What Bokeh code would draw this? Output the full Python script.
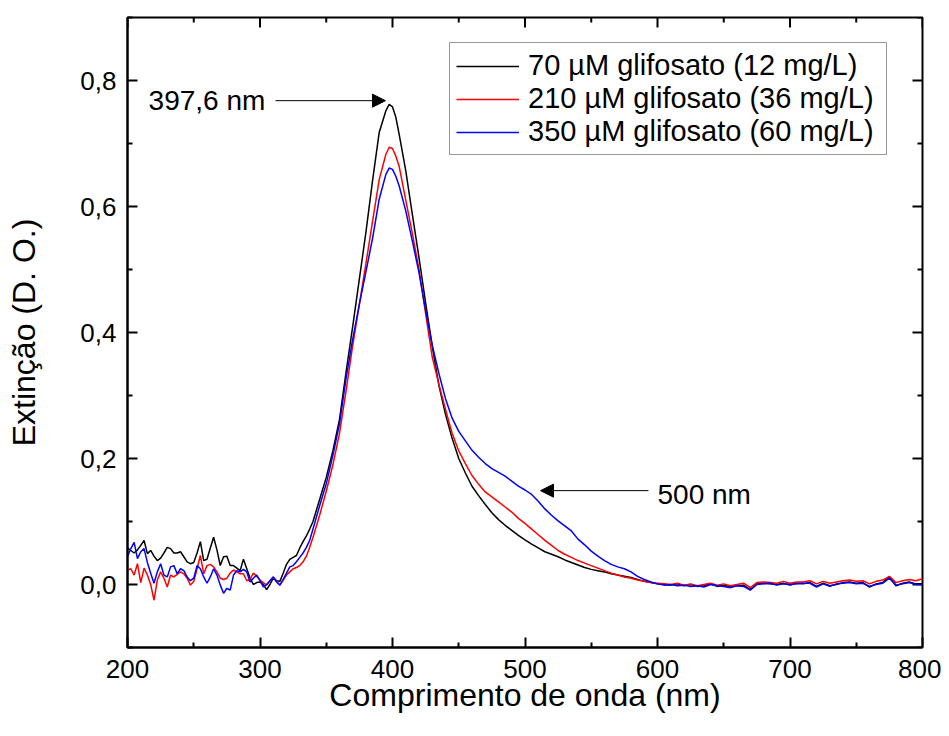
from bokeh.plotting import figure
from bokeh.models import (ColumnDataSource, LinearAxis, FixedTicker, CustomJSTickFormatter,
                          Legend, LegendItem, Arrow, NormalHead, Label, Range1d)
from bokeh.embed import file_html
from bokeh.resources import INLINE

# ---------------- data ----------------
wavelength = [
    200, 202.5, 205, 207.5, 210, 212.5, 215, 217.5, 220, 222.5, 225, 227.5, 230, 232.5, 235, 237.5,
    240, 242.5, 245, 247.5, 250, 252.5, 255, 257.5, 260, 262.5, 265, 267.5, 270, 272.5, 275, 277.5,
    280, 282.5, 285, 287.5, 290, 292.5, 295, 297.5, 300, 302.5, 305, 307.5, 310, 312.5, 315, 317.5,
    320, 322.5, 325, 327.5, 330, 332.5, 335, 337.5, 340,
    345, 350, 355, 360, 365, 370, 375, 380, 385, 390, 395, 397.5, 400, 402.5,
    405, 410, 415, 420, 425, 430, 435, 440, 445, 450, 455, 460, 465, 470, 475, 480, 485, 490, 495, 500,
    505, 510, 515, 520, 525, 530, 535, 540, 545, 550, 555, 560, 565, 570, 575, 580, 585, 590, 595, 600,
    605, 610, 615, 620, 625, 630, 635, 640, 645, 650, 655, 660, 665, 670, 675, 680, 685, 690, 695, 700,
    705, 710, 715, 720, 725, 730, 735, 740, 745, 750, 755, 760, 765, 770, 775, 780, 785, 790, 795, 800,
]

ext_70uM = [
    0.058, 0.054, 0.050, 0.055, 0.062, 0.070, 0.049, 0.054, 0.045, 0.038, 0.042, 0.050, 0.059, 0.057, 0.050, 0.050,
    0.052, 0.044, 0.036, 0.033, 0.035, 0.050, 0.068, 0.038, 0.040, 0.058, 0.075, 0.055, 0.030, 0.044, 0.045, 0.030,
    0.030, 0.026, 0.022, 0.040, 0.025, 0.010, 0.000, 0.003, 0.004, 0.000, -0.008, 0.000, 0.010, 0.006, 0.005, 0.018,
    0.032, 0.040, 0.043, 0.046, 0.058, 0.068, 0.077, 0.088, 0.100,
    0.135, 0.170, 0.212, 0.262, 0.338, 0.410, 0.485, 0.560, 0.642, 0.718, 0.752, 0.762, 0.758, 0.742,
    0.715, 0.657, 0.587, 0.519, 0.447, 0.378, 0.316, 0.270, 0.232, 0.200, 0.177, 0.156, 0.141, 0.127, 0.114, 0.103, 0.094, 0.086, 0.078, 0.071,
    0.064, 0.058, 0.052, 0.048, 0.044, 0.039, 0.035, 0.031, 0.027, 0.024, 0.022, 0.020, 0.017, 0.015, 0.013, 0.011, 0.008, 0.005, 0.003, 0.001,
    0.000, -0.001, 0.001, -0.002, 0.000, -0.003, -0.002, 0.001, -0.003, -0.001, -0.004, -0.002, -0.001, -0.008, 0.001, 0.002, 0.001, 0.000, 0.002, -0.001,
    0.002, 0.001, 0.003, -0.003, 0.002, -0.002, 0.000, 0.003, 0.004, 0.002, 0.003, -0.004, 0.001, 0.003, 0.012, -0.002, 0.002, 0.004, 0.001, 0.001,
]

ext_210uM = [
    0.023, 0.025, 0.015, 0.033, 0.003, 0.026, 0.015, 0.000, -0.025, 0.007, 0.020, 0.010, -0.004, 0.015, 0.012, 0.016,
    0.020, 0.017, 0.010, -0.001, 0.005, 0.025, 0.046, 0.017, 0.030, 0.032, 0.028, 0.020, 0.010, 0.008, 0.010, 0.018,
    0.023, 0.020, 0.017, 0.017, 0.006, 0.008, 0.018, 0.013, 0.007, 0.003, -0.001, 0.006, 0.012, 0.005, -0.001, 0.007,
    0.015, 0.020, 0.025, 0.027, 0.030, 0.036, 0.045, 0.059, 0.075,
    0.110, 0.148, 0.190, 0.240, 0.308, 0.380, 0.445, 0.510, 0.577, 0.643, 0.683, 0.694, 0.692, 0.680,
    0.664, 0.610, 0.557, 0.500, 0.430, 0.361, 0.318, 0.278, 0.240, 0.212, 0.192, 0.173, 0.159, 0.147, 0.139, 0.131, 0.123, 0.115, 0.105, 0.097,
    0.088, 0.079, 0.070, 0.062, 0.054, 0.048, 0.043, 0.038, 0.034, 0.030, 0.026, 0.022, 0.018, 0.015, 0.012, 0.010, 0.007, 0.005, 0.003, 0.002,
    0.001, 0.000, 0.002, -0.001, 0.001, -0.002, 0.000, 0.002, -0.001, 0.001, -0.002, 0.000, 0.002, -0.005, 0.003, 0.004, 0.003, 0.002, 0.005, 0.002,
    0.004, 0.004, 0.006, 0.001, 0.005, 0.002, 0.004, 0.006, 0.007, 0.005, 0.006, 0.001, 0.005, 0.007, 0.013, 0.003, 0.006, 0.008, 0.006, 0.009,
]

ext_350uM = [
    0.044, 0.057, 0.067, 0.041, 0.052, 0.057, 0.035, 0.018, 0.002, 0.020, 0.033, 0.015, 0.012, 0.028, 0.030, 0.017,
    0.025, 0.022, 0.012, 0.006, 0.010, 0.030, 0.025, 0.012, 0.002, 0.012, 0.025, 0.015, -0.001, -0.014, -0.006, -0.009,
    0.015, 0.022, 0.020, 0.024, 0.020, 0.004, 0.010, 0.015, 0.006, -0.004, 0.000, 0.006, 0.012, 0.004, -0.001, 0.008,
    0.018, 0.028, 0.030, 0.036, 0.043, 0.050, 0.059, 0.070, 0.088,
    0.125, 0.160, 0.205, 0.255, 0.328, 0.390, 0.445, 0.497, 0.550, 0.612, 0.651, 0.661, 0.659, 0.648,
    0.633, 0.593, 0.545, 0.495, 0.435, 0.380, 0.335, 0.295, 0.264, 0.243, 0.228, 0.213, 0.202, 0.192, 0.184, 0.178, 0.172, 0.164, 0.156, 0.150,
    0.143, 0.132, 0.120, 0.110, 0.101, 0.093, 0.085, 0.072, 0.063, 0.053, 0.045, 0.038, 0.032, 0.028, 0.025, 0.020, 0.013, 0.008, 0.004, 0.001,
    -0.001, 0.000, -0.002, -0.001, -0.003, -0.002, -0.004, 0.000, -0.002, -0.003, -0.005, -0.002, -0.003, -0.009, 0.000, 0.001, 0.002, -0.001, 0.001, 0.000,
    0.001, 0.002, 0.002, -0.004, 0.001, -0.003, 0.001, 0.002, 0.003, 0.001, 0.002, -0.003, 0.000, 0.002, 0.010, -0.001, 0.001, 0.003, 0.000, 0.000,
]

series_labels = ["70 µM glifosato (12 mg/L)", "210 µM glifosato (36 mg/L)", "350 µM glifosato (60 mg/L)"]
series_colors = ["#000000", "#ff0000", "#0000ff"]

x_ticks = [200, 300, 400, 500, 600, 700, 800]
x_minor = [250, 350, 450, 550, 650, 750]
y_ticks = [0.0, 0.2, 0.4, 0.6, 0.8]
y_minor = [-0.1, 0.1, 0.3, 0.5, 0.7, 0.9]

x_title = "Comprimento de onda (nm)"
y_title = "Extinção (D. O.)"

peak_label = "397,6 nm"
peak_arrow = dict(x_start=311.7, x_end=394.7, y=0.768)
shoulder_label = "500 nm"
shoulder_arrow = dict(x_start=593.2, x_end=511.7, y=0.149)

# ---------------- figure ----------------
FONT = "Liberation Sans"
X_LO, X_HI = 200, 800
Y_LO, Y_HI = -0.1, 0.9
FW, FH = 795, 630
MAJ, MIN = 10, 5

p = figure(frame_width=FW, frame_height=FH,
           x_range=Range1d(X_LO, X_HI), y_range=Range1d(Y_LO, Y_HI),
           output_backend="svg", toolbar_location=None,
           x_axis_type=None, y_axis_type=None,
           min_border_left=127, min_border_right=19, min_border_top=17, min_border_bottom=70)
p.background_fill_color = "white"
p.border_fill_color = "white"
p.xgrid.visible = False
p.ygrid.visible = False
p.outline_line_color = "black"
p.outline_line_width = 2

yfmt = CustomJSTickFormatter(code="return tick.toFixed(1).replace('.', ',');")

def style_axis(ax):
    ax.axis_line_color = "black"
    ax.axis_line_width = 2
    ax.major_tick_line_color = "black"
    ax.major_tick_line_width = 2
    ax.minor_tick_line_color = "black"
    ax.minor_tick_line_width = 2
    ax.major_tick_in = MAJ
    ax.major_tick_out = 0
    ax.minor_tick_in = MIN
    ax.minor_tick_out = 0
    ax.major_label_text_font = FONT
    ax.major_label_text_font_size = "26px"
    ax.major_label_text_color = "black"
    ax.axis_label_text_font = FONT
    ax.axis_label_text_font_size = "32px"
    ax.axis_label_text_font_style = "normal"
    ax.axis_label_text_color = "black"

xb = LinearAxis(ticker=FixedTicker(ticks=x_ticks, minor_ticks=x_minor), axis_label=x_title)
style_axis(xb)
xb.major_label_standoff = 12
xb.axis_label_standoff = -4
p.add_layout(xb, "below")

yl = LinearAxis(ticker=FixedTicker(ticks=y_ticks, minor_ticks=y_minor), formatter=yfmt, axis_label=y_title)
style_axis(yl)
yl.major_label_standoff = 11
yl.axis_label_standoff = 35
p.add_layout(yl, "left")

# mirrored inward ticks on the top and right edges
dy_maj = MAJ * (Y_HI - Y_LO) / FH
dy_min = MIN * (Y_HI - Y_LO) / FH
dx_maj = MAJ * (X_HI - X_LO) / FW
dx_min = MIN * (X_HI - X_LO) / FW
for xs, d in ((x_ticks, dy_maj), (x_minor, dy_min)):
    p.segment(x0=xs, y0=[Y_HI] * len(xs), x1=xs, y1=[Y_HI - d] * len(xs), line_color="black", line_width=2)
for ys, d in ((y_ticks, dx_maj), (y_minor, dx_min)):
    p.segment(x0=[X_HI] * len(ys), y0=ys, x1=[X_HI - d] * len(ys), y1=ys, line_color="black", line_width=2)

src = ColumnDataSource(dict(wl=wavelength, a=ext_70uM, b=ext_210uM, c=ext_350uM))
renderers = []
for col, color in zip(["a", "b", "c"], series_colors):
    r = p.line("wl", col, source=src, line_color=color, line_width=1.5)
    renderers.append(r)

legend = Legend(items=[LegendItem(label=lbl, renderers=[r]) for lbl, r in zip(series_labels, renderers)],
                location=(322, 492))
legend.label_text_font = FONT
legend.label_text_font_size = "29px"
legend.label_text_color = "black"
legend.glyph_width = 63
legend.glyph_height = 30
legend.label_standoff = 9
legend.label_width = 352
legend.padding = 6
legend.spacing = 0
legend.margin = 0
legend.border_line_color = "#333333"
legend.border_line_width = 1.5
legend.background_fill_color = "white"
legend.background_fill_alpha = 1
p.add_layout(legend)

head1 = NormalHead(size=13, fill_color="black", line_color="black")
p.add_layout(Arrow(end=head1, x_start=peak_arrow["x_start"], y_start=peak_arrow["y"],
                   x_end=peak_arrow["x_end"], y_end=peak_arrow["y"], line_color="black", line_width=1))
head2 = NormalHead(size=13, fill_color="black", line_color="black")
p.add_layout(Arrow(end=head2, x_start=shoulder_arrow["x_start"], y_start=shoulder_arrow["y"],
                   x_end=shoulder_arrow["x_end"], y_end=shoulder_arrow["y"], line_color="black", line_width=1))

p.add_layout(Label(x=304, y=0.768, text=peak_label, text_align="right", text_baseline="middle",
                   text_font=FONT, text_font_size="28px", text_color="black"))
p.add_layout(Label(x=600, y=0.143, text=shoulder_label, text_align="left", text_baseline="middle",
                   text_font=FONT, text_font_size="28px", text_color="black"))

open("out.html", "w").write(file_html(p, INLINE))
